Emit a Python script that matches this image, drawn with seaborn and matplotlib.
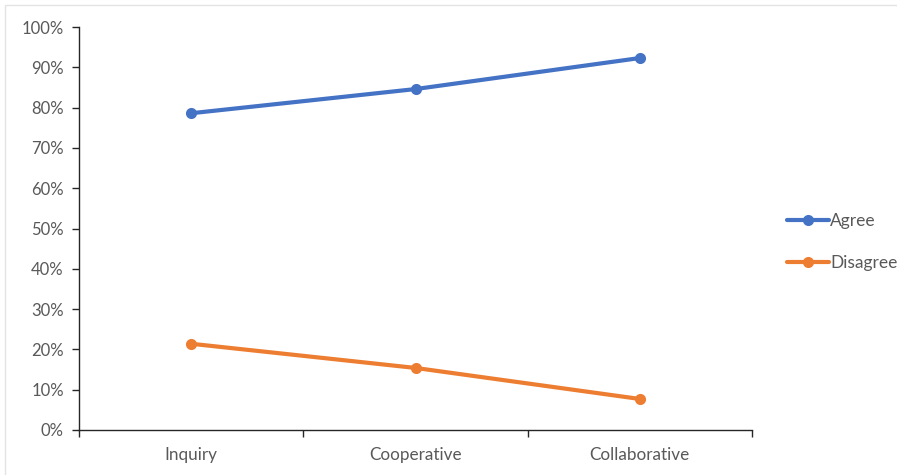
import matplotlib
matplotlib.use("Agg")
import matplotlib.pyplot as plt
from matplotlib.ticker import PercentFormatter, FixedLocator
from matplotlib.patches import Rectangle
import pandas as pd
import seaborn as sns

categories = ["Inquiry", "Cooperative", "Collaborative"]
agree = [78.6, 84.6, 92.3]
disagree = [21.4, 15.4, 7.7]
series_names = ["Agree", "Disagree"]
colors = {"Agree": "#4472C4", "Disagree": "#ED7D31"}

df = pd.DataFrame({
    "category": categories * 2,
    "value": agree + disagree,
    "response": ["Agree"] * 3 + ["Disagree"] * 3,
})

sns.set_theme(style="white")
plt.rcParams["font.family"] = ["Lato", "DejaVu Sans"]

fig = plt.figure(figsize=(8.97, 4.75), dpi=100)
ax = fig.add_axes([79 / 897, 45 / 475, (752 - 79) / 897, (430 - 27) / 475])

sns.lineplot(
    data=df, x="category", y="value", hue="response", hue_order=series_names,
    palette=colors, marker="o", markersize=8, markeredgewidth=0,
    linewidth=3, ax=ax, sort=False,
)

ax.set_xlim(-0.5, 2.5)
ax.set_ylim(0, 100)
ax.set_yticks(range(0, 101, 10))
ax.yaxis.set_major_formatter(PercentFormatter(decimals=0))
ax.set_xlabel("")
ax.set_ylabel("")

# category labels centred, tick marks between categories
ax.xaxis.set_minor_locator(FixedLocator([-0.5, 0.5, 1.5, 2.5]))
ax.tick_params(axis="x", which="major", length=0, pad=12, labelsize=12.3, labelcolor="#595959")
ax.tick_params(axis="x", which="minor", length=5, width=1, color="#262626", direction="out", bottom=True)
ax.tick_params(axis="y", which="major", length=5, width=1, color="#262626", direction="out",
               left=True, pad=6, labelsize=12, labelcolor="#595959")

for side in ["top", "right"]:
    ax.spines[side].set_visible(False)
for side in ["left", "bottom"]:
    ax.spines[side].set_color("#262626")
    ax.spines[side].set_linewidth(1)

leg = ax.legend(
    loc="center left", bbox_to_anchor=(780 / 897, (475 - 242) / 475), bbox_transform=fig.transFigure,
    frameon=False, fontsize=12.5, handlelength=2.4, handletextpad=0.1, labelspacing=1.45,
    borderaxespad=0,
)
for t in leg.get_texts():
    t.set_color("#595959")

# light chart-area border
fig.patches.append(Rectangle((5 / 897, -0.1), 1.2, (470 / 475) + 0.1, transform=fig.transFigure,
                             fill=False, edgecolor="#E3E3E3", linewidth=1))

fig.savefig("out.png", dpi=100)
